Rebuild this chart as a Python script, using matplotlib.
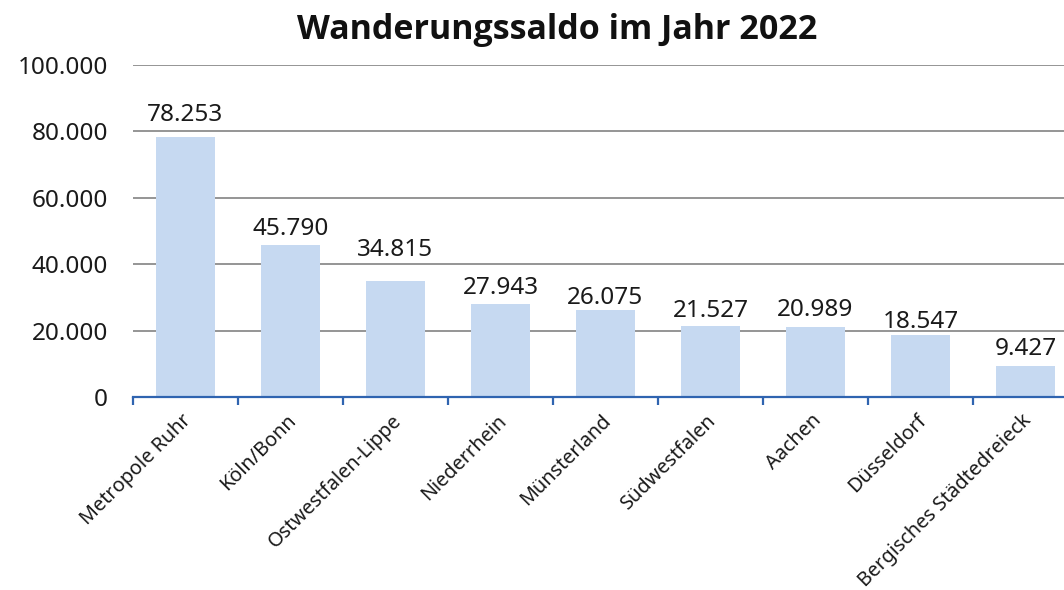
import matplotlib
matplotlib.use("Agg")
import matplotlib.pyplot as plt

categories = ["Metropole Ruhr", "Köln/Bonn", "Ostwestfalen-Lippe", "Niederrhein",
              "Münsterland", "Südwestfalen", "Aachen", "Düsseldorf",
              "Bergisches Städtedreieck"]
values = [78253, 45790, 34815, 27943, 26075, 21527, 20989, 18547, 9427]
title = "Wanderungssaldo im Jahr 2022"
yticks = [0, 20000, 40000, 60000, 80000, 100000]
# vertical gap (px) between bar top and label baseline, as placed in the original
label_gaps = [16, 10, 25, 10, 6, 9, 11, 7, 11]

plt.rcParams['font.family'] = ['Noto Sans', 'DejaVu Sans']

def fmt(v):
    return f"{v:,}".replace(",", ".")

fig = plt.figure(figsize=(10.64, 5.90), dpi=100)
W, H = 1064, 590
x0, x1 = 133, 1078
y0, y1 = 397, 65
ax = fig.add_axes([x0 / W, 1 - y0 / H, (x1 - x0) / W, (y0 - y1) / H])

pos = list(range(len(categories)))
ax.bar(pos, values, width=0.57, color="#C6D9F1", zorder=3)
ax.set_xlim(-0.5, len(categories) - 0.5)
ax.set_ylim(0, 100000)
ax.set_yticks(yticks)
ax.set_yticklabels([fmt(v) for v in yticks], fontsize=17.5, color="#1a1a1a")
ax.tick_params(axis='y', length=0, pad=18)
ax.yaxis.grid(True, color="#8C8C8C", linewidth=1.3, zorder=0)
ax.set_axisbelow(True)

for s in ["left", "right", "top"]:
    ax.spines[s].set_visible(False)
ax.spines["bottom"].set_color("#2F64B0")
ax.spines["bottom"].set_linewidth(1.6)
ax.spines["bottom"].set_zorder(4)

ax.set_xticks([p - 0.5 for p in pos])
ax.set_xticklabels([])
ax.tick_params(axis='x', length=6, width=1.6, color="#2F64B0", direction='out')

for p, c in zip(pos, categories):
    ax.annotate(c, xy=(p, 0), xytext=(-3, -10),
                textcoords='offset points', rotation=45, rotation_mode='anchor',
                ha='right', va='top', fontsize=14.3, color="#1a1a1a")

for p, v, g in zip(pos, values, label_gaps):
    ax.annotate(fmt(v), xy=(p, v), xytext=(0, g), textcoords='offset pixels',
                ha='center', va='baseline', fontsize=17.5, color="#1a1a1a")

fig.text(557 / W, 1 - 30 / H, title, ha='center', va='center',
         fontsize=24.5, fontweight='bold', color="#111111",
         family=['Open Sans', 'DejaVu Sans'])

fig.savefig("out.png", dpi=100)
